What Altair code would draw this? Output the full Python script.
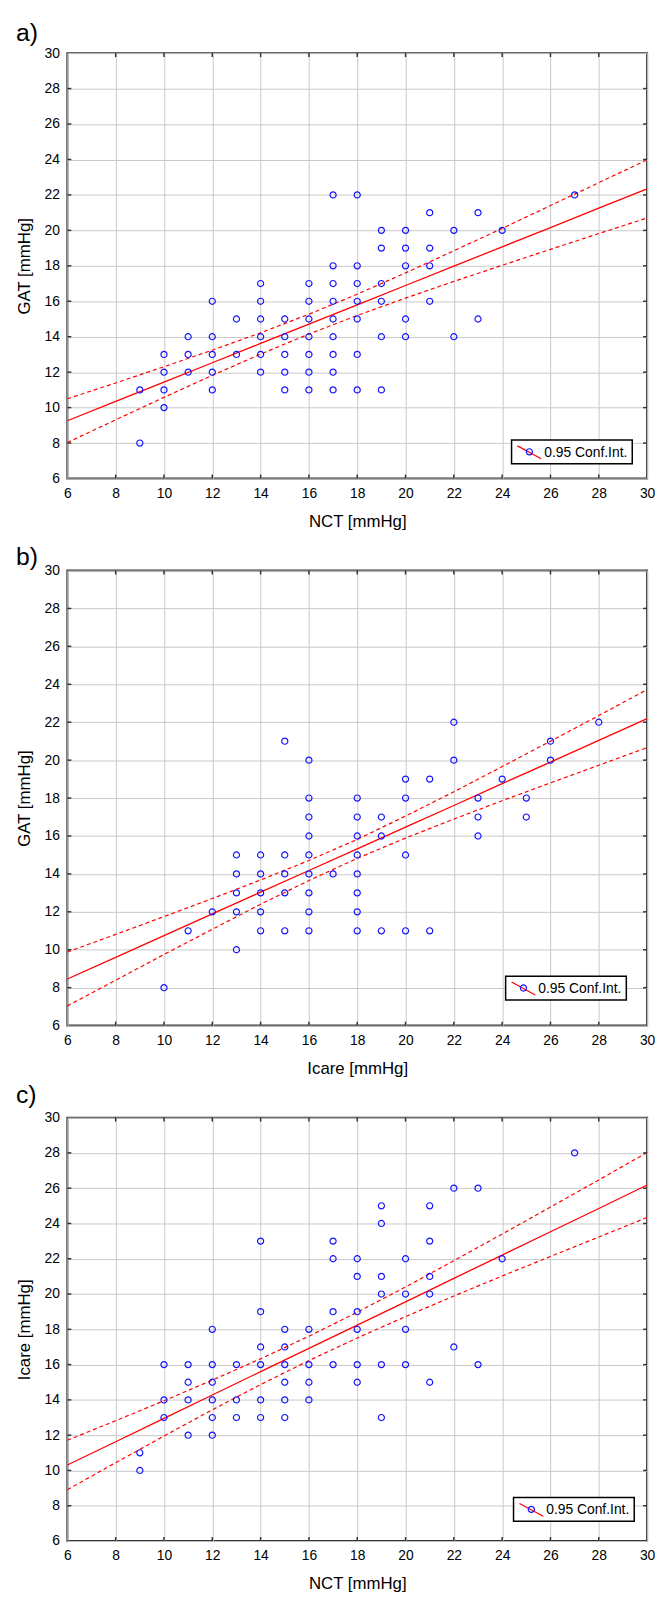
import altair as alt
import pandas as pd

FONT = "Liberation Sans"

# ---------------- data ----------------
# panel a) NCT vs GAT
a_nct = [9, 9, 10, 10, 10, 10, 11, 11, 11, 12, 12, 12, 12, 12, 13, 13,
         14, 14, 14, 14, 14, 14, 15, 15, 15, 15, 15, 16, 16, 16, 16, 16, 16, 16,
         17, 17, 17, 17, 17, 17, 17, 17, 17, 18, 18, 18, 18, 18, 18, 18,
         19, 19, 19, 19, 19, 19, 20, 20, 20, 20, 20, 21, 21, 21, 21,
         22, 22, 23, 23, 24, 27]
a_gat = [11, 8, 13, 12, 11, 10, 14, 13, 12, 16, 14, 13, 12, 11, 15, 13,
         17, 16, 15, 14, 13, 12, 15, 14, 13, 12, 11, 17, 16, 15, 14, 13, 12, 11,
         22, 18, 17, 16, 15, 14, 13, 12, 11, 22, 18, 17, 16, 15, 13, 11,
         20, 19, 17, 16, 14, 11, 20, 19, 18, 15, 14, 21, 19, 18, 16,
         20, 14, 21, 15, 20, 22]

# panel b) Icare vs GAT
b_icare = [10, 11, 12, 13, 13, 13, 13, 13, 14, 14, 14, 14, 14, 15, 15, 15, 15, 15,
           16, 16, 16, 16, 16, 16, 16, 16, 16, 17, 18, 18, 18, 18, 18, 18, 18, 18,
           19, 19, 19, 20, 20, 20, 20, 21, 21, 22, 22, 23, 23, 23, 24, 25, 25,
           26, 26, 28]
b_gat = [8, 11, 12, 15, 14, 13, 12, 10, 15, 14, 13, 12, 11, 21, 15, 14, 13, 11,
         20, 18, 17, 16, 15, 14, 13, 12, 11, 14, 18, 17, 16, 15, 14, 13, 12, 11,
         17, 16, 11, 19, 18, 15, 11, 19, 11, 22, 20, 18, 17, 16, 19, 18, 17,
         21, 20, 22]

# panel c) NCT vs Icare
c_nct = [9, 9, 10, 10, 10, 11, 11, 11, 11, 12, 12, 12, 12, 12, 12, 13, 13, 13,
         14, 14, 14, 14, 14, 14, 15, 15, 15, 15, 15, 15, 16, 16, 16, 16,
         17, 17, 17, 17, 18, 18, 18, 18, 18, 18, 19, 19, 19, 19, 19, 19,
         20, 20, 20, 20, 21, 21, 21, 21, 21, 22, 22, 23, 23, 24, 27]
c_icare = [11, 10, 16, 14, 13, 16, 15, 14, 12, 18, 16, 15, 14, 13, 12, 16, 14, 13,
           23, 19, 17, 16, 14, 13, 18, 17, 16, 15, 14, 13, 18, 16, 15, 14,
           23, 22, 19, 16, 22, 21, 19, 18, 16, 15, 25, 24, 21, 20, 16, 13,
           22, 20, 18, 16, 25, 23, 21, 20, 15, 26, 17, 26, 16, 22, 28]

# regression line and 0.95 confidence limits read along x
fit_x = [6, 8, 10, 12, 14, 16, 18, 20, 22, 24, 26, 28, 30]
a_fit = [9.26, 10.35, 11.44, 12.53, 13.62, 14.71, 15.80, 16.89, 17.98, 19.07, 20.16, 21.25, 22.34]
a_up = [10.50, 11.39, 12.31, 13.24, 14.22, 15.27, 16.40, 17.60, 18.85, 20.11, 21.40, 22.69, 23.98]
a_lo = [8.03, 9.31, 10.58, 11.82, 13.02, 14.15, 15.20, 16.18, 17.12, 18.03, 18.93, 19.82, 20.70]

b_fit = [8.46, 9.60, 10.75, 11.89, 13.04, 14.18, 15.32, 16.47, 17.61, 18.76, 19.90, 21.04, 22.19]
b_up = [9.88, 10.81, 11.75, 12.70, 13.68, 14.71, 15.82, 17.05, 18.33, 19.66, 21.00, 22.35, 23.72]
b_lo = [7.04, 8.39, 9.75, 11.08, 12.40, 13.65, 14.82, 15.89, 16.89, 17.86, 18.80, 19.73, 20.66]

c_fit = [10.31, 11.63, 12.95, 14.28, 15.60, 16.92, 18.24, 19.56, 20.89, 22.21, 23.53, 24.85, 26.18]
c_up = [11.71, 12.82, 13.95, 15.12, 16.33, 17.61, 18.97, 20.40, 21.89, 23.40, 24.93, 26.47, 28.02]
c_lo = [8.91, 10.44, 11.95, 13.44, 14.87, 16.23, 17.51, 18.72, 19.89, 21.02, 22.13, 23.23, 24.34]

tick_values = [6, 8, 10, 12, 14, 16, 18, 20, 22, 24, 26, 28, 30]
legend_label = ["0.95 Conf.Int."]

PLOT_W = 586
FRAME = "#333333"


def panel(label, label_y, xs, ys, xtitle, ytitle, fit, up, lo, h, box_right, box_bottom):
    pts = pd.DataFrame({"x": xs, "y": ys})
    band = pd.DataFrame({"x": fit_x, "fit": fit, "up": up, "lo": lo})
    leg = pd.DataFrame({"t": legend_label})
    lab = pd.DataFrame({"t": [label]})
    ticks = pd.DataFrame({"v": tick_values[1:-1]})

    xsc = alt.Scale(domain=[6, 30], nice=False, zero=False)
    ysc = alt.Scale(domain=[6, 30], nice=False, zero=False)
    xax = alt.Axis(title=xtitle, values=tick_values, labelFlush=False, labelOverlap=False)
    yax = alt.Axis(title=ytitle, values=tick_values, labelFlush=False, labelOverlap=False)

    def X(f):
        return alt.X(f, type="quantitative", scale=xsc, axis=xax)

    def Y(f):
        return alt.Y(f, type="quantitative", scale=ysc, axis=yax)

    base = alt.Chart(band)
    fitline = base.mark_line(color="#ff0000", strokeWidth=1.3).encode(x=X("x"), y=Y("fit"))
    upper = base.mark_line(color="#ff0000", strokeWidth=1.2, strokeDash=[4, 3]).encode(x=X("x"), y=Y("up"))
    lower = base.mark_line(color="#ff0000", strokeWidth=1.2, strokeDash=[4, 3]).encode(x=X("x"), y=Y("lo"))
    points = alt.Chart(pts).mark_point(
        shape="circle", filled=False, color="#1414ff", size=38, strokeWidth=1.2, opacity=1
    ).encode(x=X("x"), y=Y("y"))

    # small inward ticks on the frame
    tk = alt.Chart(ticks)
    t_bottom = tk.mark_rule(color=FRAME, strokeWidth=1.5).encode(x=X("v"), y=alt.value(h), y2=alt.value(h - 4))
    t_top = tk.mark_rule(color=FRAME, strokeWidth=1.5).encode(x=X("v"), y=alt.value(0), y2=alt.value(4))
    t_left = tk.mark_rule(color=FRAME, strokeWidth=1.5).encode(y=Y("v"), x=alt.value(0), x2=alt.value(4))
    t_right = tk.mark_rule(color=FRAME, strokeWidth=1.5).encode(y=Y("v"), x=alt.value(PLOT_W), x2=alt.value(PLOT_W - 4))

    bx0 = box_right - 122
    by0 = box_bottom - 24
    lg = alt.Chart(leg)
    box = lg.mark_rect(fill="white", stroke="black", strokeWidth=1.5).encode(
        x=alt.value(bx0), x2=alt.value(box_right), y=alt.value(by0), y2=alt.value(box_bottom))
    sym_line = lg.mark_rule(color="#ff0000", strokeWidth=1.2).encode(
        x=alt.value(bx0 + 6), x2=alt.value(bx0 + 30), y=alt.value(by0 + 6), y2=alt.value(by0 + 19))
    sym_pt = lg.mark_point(shape="circle", filled=False, color="#1414ff", size=38, strokeWidth=1.2,
                           opacity=1).encode(x=alt.value(bx0 + 18), y=alt.value(by0 + 12))
    txt = lg.mark_text(align="left", baseline="middle", font=FONT, fontSize=14, color="black").encode(
        x=alt.value(bx0 + 33), y=alt.value(by0 + 13), text="t:N")

    plabel = alt.Chart(lab).mark_text(align="left", baseline="middle", font=FONT, fontSize=25,
                                      color="black").encode(
        x=alt.value(-52), y=alt.value(label_y), text="t:N")
    # invisible guide fixing the top of each panel's layout box
    guide = alt.Chart(lab).mark_rule(strokeOpacity=0, strokeWidth=1).encode(
        x=alt.value(0), x2=alt.value(1), y=alt.value(-36))

    return alt.layer(fitline, upper, lower, points, t_bottom, t_top, t_left, t_right,
                     box, sym_line, sym_pt, txt, plabel, guide).properties(width=PLOT_W, height=h)


pa = panel("a)", -20, a_nct, a_gat, "NCT [mmHg]", "GAT [mmHg]", a_fit, a_up, a_lo, 430, 571, 415)
pb = panel("b)", -14, b_icare, b_gat, "Icare [mmHg]", "GAT [mmHg]", b_fit, b_up, b_lo, 460, 565, 434)
pc = panel("c)", -23, c_nct, c_icare, "NCT [mmHg]", "Icare [mmHg]", c_fit, c_up, c_lo, 428, 573, 408)

chart = alt.vconcat(pa, pb, pc, spacing=93, bounds="flush").properties(
    padding={"left": 6, "top": 0, "right": 0, "bottom": 0}
).configure_view(
    stroke=FRAME, strokeWidth=2
).configure_axis(
    grid=True, gridColor="#c8c8c8", gridWidth=1, domain=False, ticks=False,
    labelFont=FONT, labelFontSize=14, labelColor="black",
    titleFont=FONT, titleFontSize=17, titleFontWeight="normal", titleColor="black",
).configure_axisX(labelPadding=8, titlePadding=13).configure_axisY(labelPadding=8, titlePadding=11)

chart.save("out.html", embed_options={"renderer": "svg", "actions": False})
